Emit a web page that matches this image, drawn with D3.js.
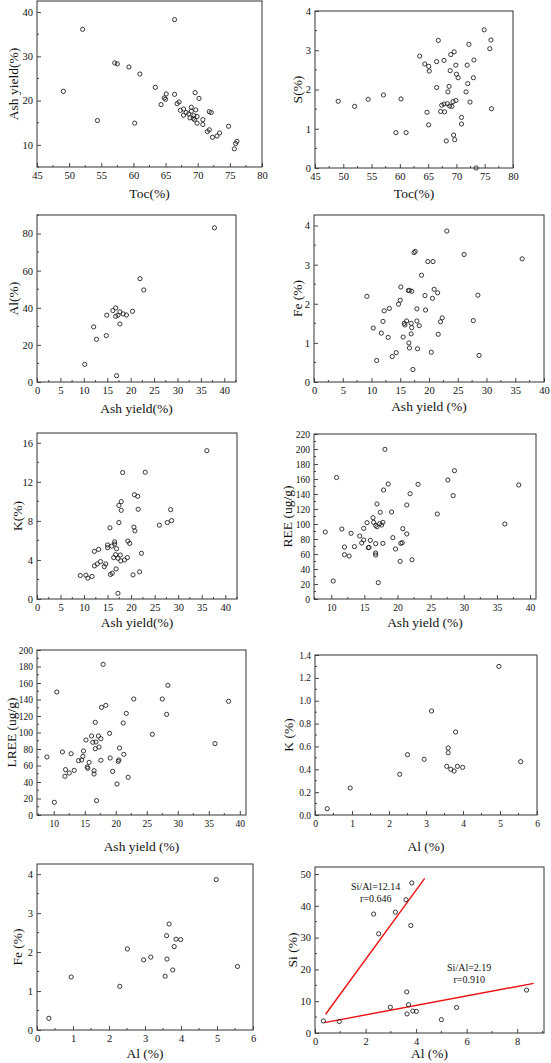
<!DOCTYPE html>
<html><head><meta charset="utf-8">
<script src="https://cdn.jsdelivr.net/npm/d3@7"></script>
<style>
html,body{margin:0;padding:0;background:#fff;}
svg{display:block;}
</style></head>
<body>
<svg id="chart" width="551" height="1063"></svg>
<script>
// ---------- DATA ----------
const toc1 = [49.1,52.1,54.4,57.1,57.5,59.3,60.2,61.0,63.4,64.3,64.8,65.1,65.0,66.4,66.4,66.8,67.1,67.3,67.8,67.8,68.2,68.6,68.8,69.0,69.0,69.3,69.4,69.5,69.6,69.7,69.9,69.9,70.2,70.8,70.8,71.5,71.8,71.8,72.1,72.3,73.0,73.4,74.8,75.7,75.9,76.1];
const ash1 = [22.1,36.1,15.5,28.5,28.3,27.6,14.9,26.0,23.0,19.1,20.6,21.5,20.3,38.3,21.4,19.3,19.7,17.8,18.1,16.7,17.3,17.0,16.1,18.5,17.6,16.0,16.6,15.7,21.8,17.9,14.9,16.4,20.5,15.7,14.6,13.0,13.4,17.5,17.3,11.7,12.0,12.7,14.2,9.1,10.3,10.8];

const toc2 = [49.1,52.0,54.4,57.1,59.3,60.2,61.1,63.5,64.4,64.8,65.1,65.2,65.1,66.5,66.5,66.8,67.2,67.4,67.8,67.8,67.9,68.2,68.4,68.5,68.7,68.9,68.8,69.0,69.2,69.4,69.5,69.6,69.7,69.9,69.9,70.0,70.3,70.9,70.9,71.7,71.9,72.0,72.2,72.4,73.0,73.1,73.5,74.9,75.9,76.1,76.2];
const s2   = [1.70,1.57,1.75,1.86,0.90,1.76,0.90,2.85,2.65,1.42,2.59,2.47,1.10,2.05,2.71,3.25,1.44,1.60,2.74,1.63,1.43,0.69,1.64,1.94,2.08,2.48,1.58,2.89,1.57,1.69,0.84,2.96,0.72,1.72,2.62,2.39,2.30,1.29,1.12,1.94,2.62,2.15,3.15,1.68,2.30,2.75,0.0,3.52,3.04,3.26,1.51];

const ash3 = [10.2,12.1,12.7,14.8,14.9,16.2,16.8,16.8,17.0,17.3,17.7,17.7,18.4,19.1,20.4,22.0,22.8,37.9];
const al3  = [9.5,29.7,23.0,25.0,36.0,38.5,39.9,35.4,3.4,36.0,37.8,31.3,36.7,36.1,38.1,55.7,49.6,83.1];

const ash4 = [9.2,10.3,10.9,11.7,12.0,12.2,12.9,13.1,13.6,14.3,14.7,15.0,15.1,15.5,15.7,15.8,16.1,16.4,16.5,16.6,16.6,16.9,16.9,17.0,17.0,17.2,17.4,17.6,17.9,17.9,18.0,18.3,18.7,19.3,19.4,19.8,20.4,20.6,20.7,20.9,21.5,21.6,22.0,22.3,23.1,26.1,27.7,28.5,28.7,36.2];
const fe4  = [2.19,1.38,0.55,1.25,1.55,1.82,1.14,1.88,0.65,0.75,1.99,2.09,2.43,1.15,1.50,1.46,1.56,2.34,1.00,0.87,2.34,1.50,1.23,1.39,2.32,0.32,3.31,3.34,1.56,1.87,0.85,1.44,2.73,2.21,1.84,3.08,0.76,2.14,3.08,2.37,2.28,1.22,1.54,1.64,3.86,3.26,1.57,2.22,0.68,3.15];

const ash5 = [9.2,10.4,10.8,11.7,12.2,12.2,12.8,13.1,13.5,14.3,14.6,15.0,15.0,15.5,15.6,15.9,16.0,16.5,16.3,16.5,16.7,16.8,16.9,17.2,17.2,17.4,17.4,17.7,17.8,17.9,17.9,18.2,18.6,19.2,19.3,19.7,20.4,20.6,20.8,20.7,21.4,21.5,21.8,22.2,23.0,26.0,27.7,28.4,28.6,36.1];
const k5   = [2.41,2.44,2.14,2.31,3.39,4.88,3.59,5.08,3.83,3.32,3.59,5.25,5.53,7.29,2.51,5.42,2.64,5.86,4.24,5.63,4.54,3.08,5.15,0.58,4.17,7.83,9.59,4.50,3.90,9.97,9.08,12.95,4.00,4.24,5.93,5.69,2.47,7.36,6.98,10.68,10.51,9.19,2.78,4.68,12.98,7.56,7.83,9.15,8.03,15.19];

const ash6 = [9.1,10.3,10.8,11.6,12.0,12.0,12.7,13.0,13.5,14.3,14.6,14.9,14.9,15.4,15.6,15.7,15.9,16.3,16.4,16.7,16.7,16.7,16.7,16.9,16.9,17.1,17.3,17.4,17.6,17.8,17.8,17.9,18.1,18.6,19.1,19.3,19.7,20.4,20.5,20.7,20.8,21.4,21.4,21.9,22.2,23.1,26.0,27.6,28.4,28.6,36.2,38.3];
const ree6 = [89.3,24,162,93.3,69.3,59.1,57.3,87.6,69.8,84,74.7,78.7,94.2,101.8,68.4,68.8,78.2,108.4,102.2,73.8,61.3,58.7,98.2,126.7,96.4,21.8,100.4,115.6,98.7,74.2,102.2,145.3,199.5,153.3,116,81.8,66.7,50.2,74.2,75.1,93.8,125.3,86.7,140.4,52.4,152.9,113.3,158.7,137.8,171.1,100,152];

const ash7  = [8.9,10.1,10.5,11.4,11.8,11.9,12.5,12.8,13.3,14.0,14.5,14.7,14.8,15.2,15.4,15.5,15.7,16.1,16.3,16.5,16.5,16.7,16.7,16.8,16.9,17.2,17.3,17.6,17.6,17.7,17.96,18.4,19.0,19.1,19.5,20.2,20.4,20.5,20.6,21.3,21.2,21.7,22.0,22.9,25.9,27.5,28.2,28.4,36.0,38.2];
const lree7 = [70.3,15.4,149.1,76.4,46.9,55,50.9,74.3,54.1,65.9,66.7,71.1,77.6,90.9,58.2,56.6,63.8,95.8,88.1,53.7,49.7,80.4,112.3,88.5,17.4,95.8,82.4,66.3,92.5,130.5,182.6,132.9,99,69.1,52.9,37.6,65,66.7,81.2,73.5,111.5,123.2,45.7,140.6,97.8,140.6,122,157.2,86.5,137.8];

const al8 = [0.33,0.95,2.29,2.50,2.95,3.15,3.56,3.60,3.60,3.67,3.76,3.80,3.85,3.99,4.97,5.56];
const k8  = [0.055,0.236,0.356,0.528,0.487,0.91,0.426,0.586,0.545,0.40,0.385,0.726,0.426,0.417,1.30,0.467];

const al9 = [0.33,0.95,2.30,2.51,2.96,3.16,3.56,3.60,3.61,3.67,3.77,3.81,3.86,3.99,4.98,5.57];
const fe9 = [0.30,1.36,1.12,2.08,1.80,1.87,1.38,2.42,1.82,2.72,1.54,2.14,2.33,2.32,3.86,1.63];

const al10 = [0.33,0.96,2.32,2.52,2.98,3.18,3.60,3.63,3.64,3.70,3.79,3.83,3.87,4.01,5.00,5.60,8.37];
const si10 = [3.8,3.6,37.4,31.2,8.1,38.0,41.9,12.9,6.0,8.9,33.8,47.2,6.9,6.8,4.2,8.0,13.5];

// fitted lines (endpoints in data units) and their labels
const fitHighX = [0.42, 4.34], fitHighY = [5.9, 48.6];
const fitLowX  = [0.37, 8.65], fitLowY  = [3.26, 15.6];
const fitLabels = ["Si/Al=12.14", "r=0.646", "Si/Al=2.19", "r=0.910"];
const fitLabelX = [2.4, 2.4, 6.1, 6.1];
const fitLabelY = [46.0, 42.2, 20.6, 16.8];

// tick labels
const ticksToc = [45,50,55,60,65,70,75,80];
const ticksAsh0 = [0,5,10,15,20,25,30,35,40];
const ticksAsh10 = [10,15,20,25,30,35,40];
const ticksAshY = [10,20,30,40];
const ticksS = [0,1,2,3,4];
const ticksAl = [0,20,40,60,80];
const ticksFe = [0,1,2,3,4];
const ticksK = [0,4,8,12,16];
const ticksREE = [0,20,40,60,80,100,120,140,160,180,200,220];
const ticksLREE = [0,20,40,60,80,100,120,140,160,180,200];
const ticksAlPct = [0,1,2,3,4,5,6];
const ticksK2 = [0,0.2,0.4,0.6,0.8,1.0,1.2,1.4];
const ticksAl10 = [0,2,4,6,8];
const ticksSi = [0,10,20,30,40,50];

// ---------- DRAWING ----------
const svg = d3.select("#chart");
const FONT = "'Liberation Serif','Times New Roman',serif";
const intFmt = d3.format("d");

const panels = [
 {xs:toc1,ys:ash1,box:[37,262,1,167],xd:[45,80],yd:[5,42.5],xt:ticksToc,yt:ticksAshY,xl:"Toc(%)",yl:"Ash yield(%)",xly:193,ylx:13},
 {xs:toc2,ys:s2,box:[315,513,11,168],xd:[45,80],yd:[0,4],xt:ticksToc,yt:ticksS,xl:"Toc(%)",yl:"S(%)",xly:193,ylx:297},
 {xs:ash3,ys:al3,box:[37,236,215,382],xd:[0,42.5],yd:[0,90],xt:ticksAsh0,yt:ticksAl,xl:"Ash yield(%)",yl:"Al(%)",xly:408,ylx:13},
 {xs:ash4,ys:fe4,box:[314,544,215,382],xd:[0,40],yd:[0,4.27],xt:ticksAsh0,yt:ticksFe,xl:"Ash yield (%)",yl:"Fe (%)",xly:406,ylx:297},
 {xs:ash5,ys:k5,box:[37,237,433,599],xd:[0,42.5],yd:[0,17],xt:ticksAsh0,yt:ticksK,xl:"Ash yield(%)",yl:"K(%)",xly:622,ylx:17},
 {xs:ash6,ys:ree6,box:[314,536,434,599],xd:[7.4,40.9],yd:[0,220],xt:ticksAsh10,yt:ticksREE,xl:"Ash yield (%)",yl:"REE (ug/g)",xly:622,ylx:287,fs:9.5},
 {xs:ash7,ys:lree7,box:[37,246,650,815],xd:[7.3,41],yd:[0,200],xt:ticksAsh10,yt:ticksLREE,xl:"Ash yield (%)",yl:"LREE (ug/g)",xly:846,ylx:11,fs:9.5},
 {xs:al8,ys:k8,box:[315,537,655,815],xd:[0,6],yd:[0,1.4],xt:ticksAlPct,yt:ticksK2,xl:"Al (%)",yl:"K (%)",xly:846,ylx:288,yf:d3.format(".1f"),fs:9.5},
 {xs:al9,ys:fe9,box:[37,253,864,1030],xd:[0,6],yd:[0,4.26],xt:ticksAlPct,yt:ticksFe,xl:"Al (%)",yl:"Fe (%)",xly:1053,ylx:17},
 {xs:al10,ys:si10,box:[315,544,867,1033],xd:[0,9.06],yd:[0,52.2],xt:ticksAl10,yt:ticksSi,xl:"Al (%)",yl:"Si (%)",xly:1053,ylx:292,fits:true}
];

function minors(t, dom){
  const step = t[1]-t[0];
  const out = [];
  for (let v = t[0]-step/2; v <= dom[1]+1e-9; v += step){
    if (v >= dom[0]-1e-9 && !t.some(m=>Math.abs(m-v)<1e-9)) out.push(v);
  }
  return out;
}

panels.forEach(p=>{
  const [l,r,t,b] = p.box;
  const x = d3.scaleLinear().domain(p.xd).range([l,r]);
  const y = d3.scaleLinear().domain(p.yd).range([b,t]);
  const g = svg.append("g");

  // axes
  const xa = d3.axisBottom(x).tickValues(p.xt).tickFormat(intFmt).tickSizeInner(-4).tickSizeOuter(0).tickPadding(5);
  const ya = d3.axisLeft(y).tickValues(p.yt).tickFormat(p.yf || intFmt).tickSizeInner(-4).tickSizeOuter(0).tickPadding(4);
  const gx = g.append("g").attr("transform",`translate(0,${b})`).call(xa);
  const gy = g.append("g").attr("transform",`translate(${l},0)`).call(ya);
  [gx,gy].forEach(a=>{
    a.select(".domain").remove();
    a.selectAll("line").attr("stroke","#333").attr("stroke-width",0.9);
    a.selectAll("text").attr("font-family",FONT).attr("font-size",p.fs||10.5).attr("fill","#111");
  });
  // minor ticks
  g.selectAll(null).data(minors(p.xt,p.xd)).enter().append("line")
    .attr("x1",d=>x(d)).attr("x2",d=>x(d)).attr("y1",b).attr("y2",b-2)
    .attr("stroke","#333").attr("stroke-width",0.9);
  g.selectAll(null).data(minors(p.yt,p.yd)).enter().append("line")
    .attr("y1",d=>y(d)).attr("y2",d=>y(d)).attr("x1",l).attr("x2",l+2)
    .attr("stroke","#333").attr("stroke-width",0.9);

  // frame
  g.append("rect").attr("x",l).attr("y",t).attr("width",r-l).attr("height",b-t)
    .attr("fill","none").attr("stroke","#333").attr("stroke-width",1);

  // fit lines
  if (p.fits){
    [[fitHighX,fitHighY],[fitLowX,fitLowY]].forEach(([fx,fy])=>{
      g.append("line").attr("x1",x(fx[0])).attr("y1",y(fy[0])).attr("x2",x(fx[1])).attr("y2",y(fy[1]))
        .attr("stroke","#ee1111").attr("stroke-width",1.4);
    });
    g.selectAll(null).data(fitLabels).enter().append("text")
      .attr("x",(d,i)=>x(fitLabelX[i])).attr("y",(d,i)=>y(fitLabelY[i]))
      .attr("dy","0.35em").attr("text-anchor","middle")
      .attr("font-family",FONT).attr("font-size",10).attr("fill","#111").text(d=>d);
  }

  // points
  g.selectAll(null).data(p.xs).enter().append("circle")
    .attr("cx",d=>x(d)).attr("cy",(d,i)=>y(p.ys[i])).attr("r",2.1)
    .attr("fill","none").attr("stroke","#222").attr("stroke-width",0.9);

  // titles
  g.append("text").attr("x",(l+r)/2).attr("y",p.xly).attr("dy","0.35em").attr("text-anchor","middle")
    .attr("font-family",FONT).attr("font-size",13.5).attr("fill","#111").text(p.xl);
  g.append("text").attr("transform",`translate(${p.ylx},${(t+b)/2}) rotate(-90)`).attr("dy","0.35em")
    .attr("text-anchor","middle").attr("font-family",FONT).attr("font-size",13.5).attr("fill","#111").text(p.yl);
});
</script>
</body></html>
